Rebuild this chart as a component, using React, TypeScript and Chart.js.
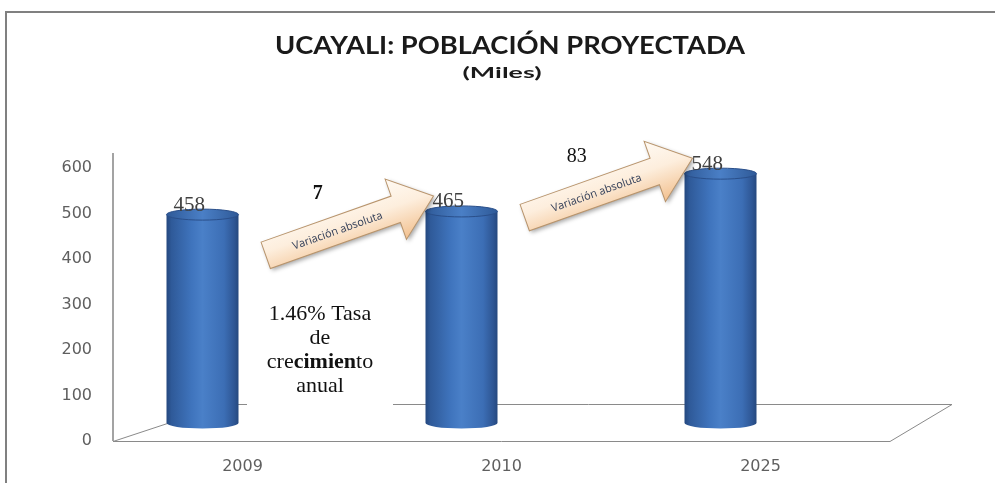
import React, { useEffect, useRef } from "react";
import { Chart, registerables } from "chart.js";

Chart.register(...registerables);

// ---- data ----
const categories = ["2009", "2010", "2025"];
const population = [458, 465, 548];
const yMin = 0;
const yMax = 600;
const yStep = 100;
const titleText = "UCAYALI: POBLACIÓN PROYECTADA";
const subtitleText = "(Miles)";
const variationValues = ["7", "83"];
const variationBold = [true, false];
const arrowCaption = "Variación absoluta";
const rateLines = [
  [{ t: "1.46% Tasa", b: false }],
  [{ t: "de", b: false }],
  [
    { t: "cre", b: false },
    { t: "cimien", b: true },
    { t: "to", b: false },
  ],
  [{ t: "anual", b: false }],
];

// ---- style constants ----
const DX = -40; // 3D shift of cylinders
const DY = -18;
const RY = 5.5;
const TICK_FONT = { family: "'DejaVu Sans', sans-serif", size: 16 };
const TICK_COLOR = "#5f5f5f";

function drawFitted(ctx, text, font, cx, baseline, targetW, color) {
  ctx.save();
  ctx.font = font;
  ctx.fillStyle = color;
  ctx.textAlign = "left";
  ctx.textBaseline = "alphabetic";
  const w = ctx.measureText(text).width;
  const s = targetW / w;
  ctx.translate(cx - targetW / 2, baseline);
  ctx.scale(s, 1);
  ctx.fillText(text, 0, 0);
  ctx.restore();
}

function drawArrow(ctx, tx, ty, tipX, tipY, bw, hw, hl, caption) {
  const dx = tipX - tx;
  const dy = tipY - ty;
  const L = Math.hypot(dx, dy);
  const ang = Math.atan2(dy, dx);
  ctx.save();
  ctx.translate(tx, ty);
  ctx.rotate(ang);
  ctx.beginPath();
  ctx.moveTo(0, -bw / 2);
  ctx.lineTo(L - hl, -bw / 2);
  ctx.lineTo(L - hl, -hw / 2);
  ctx.lineTo(L, 0);
  ctx.lineTo(L - hl, hw / 2);
  ctx.lineTo(L - hl, bw / 2);
  ctx.lineTo(0, bw / 2);
  ctx.closePath();
  const g = ctx.createLinearGradient(0, -hw / 2, 0, hw / 2);
  g.addColorStop(0, "#fffaf3");
  g.addColorStop(0.45, "#fdeedd");
  g.addColorStop(1, "#f2c08e");
  ctx.shadowColor = "rgba(0,0,0,0.35)";
  ctx.shadowBlur = 4;
  ctx.shadowOffsetX = 2;
  ctx.shadowOffsetY = 2;
  ctx.fillStyle = g;
  ctx.fill();
  ctx.shadowColor = "transparent";
  ctx.lineWidth = 1;
  ctx.strokeStyle = "#b8946c";
  ctx.stroke();
  ctx.font = "11px 'Open Sans', sans-serif";
  ctx.fillStyle = "#34405a";
  ctx.textAlign = "center";
  ctx.textBaseline = "middle";
  ctx.fillText(caption, (L - hl) * 0.55, 1);
  ctx.restore();
}

const decorPlugin = {
  id: "decor",
  beforeDraw(chart) {
    const { ctx } = chart;
    ctx.save();
    ctx.fillStyle = "#ffffff";
    ctx.fillRect(0, 0, chart.width, chart.height);
    ctx.strokeStyle = "#808080";
    ctx.lineWidth = 2;
    ctx.beginPath();
    ctx.moveTo(6, chart.height);
    ctx.lineTo(6, 12);
    ctx.lineTo(chart.width, 12);
    ctx.stroke();
    ctx.restore();
  },
  beforeDatasetsDraw(chart) {
    const { ctx, chartArea: ca } = chart;
    ctx.save();
    // floor
    ctx.strokeStyle = "#8a8a8a";
    ctx.lineWidth = 1;
    ctx.beginPath();
    ctx.moveTo(ca.left, ca.bottom + 0.5);
    ctx.lineTo(ca.right, ca.bottom + 0.5);
    ctx.lineTo(ca.right + 62, ca.bottom - 36.5);
    ctx.lineTo(ca.left + 112, ca.bottom - 36.5);
    ctx.closePath();
    ctx.stroke();
    // vertical axis line
    ctx.strokeStyle = "#a3a3a3";
    ctx.lineWidth = 2;
    ctx.beginPath();
    ctx.moveTo(ca.left, ca.top - 15);
    ctx.lineTo(ca.left, ca.bottom);
    ctx.stroke();
    ctx.restore();
  },
  afterDatasetsDraw(chart) {
    const { ctx } = chart;
    const meta = chart.getDatasetMeta(0);
    const tops = [];
    ctx.save();
    meta.data.forEach((el, i) => {
      const p = el.getProps(["x", "y", "base", "width"], true);
      const cx = p.x + DX;
      const top = p.y + DY;
      const bottom = p.base + DY;
      const rx = p.width / 2;
      const left = cx - rx;
      const right = cx + rx;
      // body
      const g = ctx.createLinearGradient(left, 0, right, 0);
      g.addColorStop(0, "#24487f");
      g.addColorStop(0.07, "#2f5a99");
      g.addColorStop(0.35, "#3f74bd");
      g.addColorStop(0.5, "#4a80c8");
      g.addColorStop(0.8, "#3c6eb5");
      g.addColorStop(0.94, "#2e5694");
      g.addColorStop(1, "#25487e");
      ctx.beginPath();
      ctx.moveTo(left, top);
      ctx.lineTo(left, bottom);
      ctx.ellipse(cx, bottom, rx, RY, 0, Math.PI, 0, true);
      ctx.lineTo(right, top);
      ctx.closePath();
      ctx.fillStyle = g;
      ctx.fill();
      // top ellipse
      const tg = ctx.createLinearGradient(left, 0, right, 0);
      tg.addColorStop(0, "#2f5a98");
      tg.addColorStop(0.5, "#4a7fc6");
      tg.addColorStop(1, "#2f5a98");
      ctx.beginPath();
      ctx.ellipse(cx, top, rx, RY, 0, 0, Math.PI * 2);
      ctx.fillStyle = tg;
      ctx.fill();
      ctx.strokeStyle = "#2a4f8a";
      ctx.lineWidth = 1;
      ctx.stroke();
      tops.push({ cx, left, right, topEdge: top - RY });
      // value label
      ctx.font = "21px 'Liberation Serif', 'Times New Roman', serif";
      ctx.fillStyle = "#404040";
      ctx.textAlign = "left";
      ctx.textBaseline = "alphabetic";
      ctx.fillText(String(population[i]), left + 7, top - RY + 1.5);
    });

    // white text box
    ctx.fillStyle = "#ffffff";
    ctx.fillRect(247, 287, 146, 145);
    ctx.fillStyle = "#111111";
    ctx.textBaseline = "alphabetic";
    rateLines.forEach((segs, li) => {
      let total = 0;
      const widths = segs.map((s) => {
        ctx.font = (s.b ? "bold " : "") + "22px 'Liberation Serif', serif";
        const w = ctx.measureText(s.t).width;
        total += w;
        return w;
      });
      let x = 320 - total / 2;
      const yb = 320 + li * 24;
      segs.forEach((s, si) => {
        ctx.font = (s.b ? "bold " : "") + "22px 'Liberation Serif', serif";
        ctx.textAlign = "left";
        ctx.fillText(s.t, x, yb);
        x += widths[si];
      });
    });

    // arrows between consecutive bars
    const angle = (-19.5 * Math.PI) / 180;
    const len = 178;
    for (let i = 0; i < tops.length - 1; i++) {
      const nxt = tops[i + 1];
      const tipX = nxt.left + 8;
      const tipY = nxt.topEdge - 10;
      const tx = tipX - len * Math.cos(angle);
      const ty = tipY - len * Math.sin(angle);
      drawArrow(ctx, tx, ty, tipX, tipY, 28, 64, 40, arrowCaption);
      ctx.font =
        (variationBold[i] ? "bold " : "") + "20px 'Liberation Serif', serif";
      ctx.fillStyle = "#111111";
      ctx.textAlign = "center";
      ctx.textBaseline = "alphabetic";
      ctx.fillText(variationValues[i], tx + 52, ty - 56);
    }

    // titles
    drawFitted(ctx, titleText, "bold 25px Lato, 'Open Sans', sans-serif", 510, 54, 470, "#1a1a1a");
    drawFitted(ctx, subtitleText, "bold 15px Lato, 'Open Sans', sans-serif", 502, 78, 79, "#1a1a1a");
    ctx.restore();
  },
};

export default function App() {
  const ref = useRef(null);
  useEffect(() => {
    const chart = new Chart(ref.current, {
      type: "bar",
      data: {
        labels: categories,
        datasets: [
          {
            data: population,
            backgroundColor: "rgba(0,0,0,0)",
            borderWidth: 0,
            barPercentage: 0.278,
            categoryPercentage: 1,
          },
        ],
      },
      options: {
        responsive: false,
        maintainAspectRatio: false,
        animation: false,
        devicePixelRatio: 1,
        layout: { padding: { left: 0, right: 105, top: 168, bottom: 0 } },
        plugins: {
          legend: { display: false },
          tooltip: { enabled: false },
          title: { display: false },
        },
        scales: {
          x: {
            grid: { display: false, drawTicks: false },
            border: { display: false },
            ticks: { font: TICK_FONT, color: TICK_COLOR, padding: 16 },
            afterFit: (s) => {
              s.height = 42;
            },
          },
          y: {
            min: yMin,
            max: yMax,
            grid: { display: false, drawTicks: false },
            border: { display: false },
            ticks: { stepSize: yStep, font: TICK_FONT, color: TICK_COLOR, padding: 21 },
            afterFit: (s) => {
              s.width = 113;
            },
          },
        },
      },
      plugins: [decorPlugin],
    });
    return () => chart.destroy();
  }, []);
  return (
    <div style={{ position: "fixed", left: 0, top: 0, width: 995, height: 483, background: "#fff" }}>
      <canvas ref={ref} width={995} height={483} style={{ display: "block" }} />
    </div>
  );
}
